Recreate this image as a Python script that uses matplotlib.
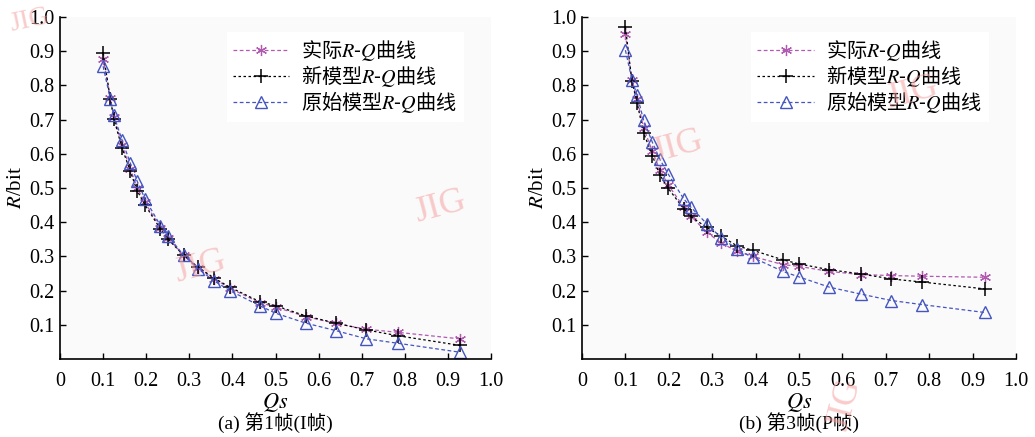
import matplotlib
matplotlib.use("Agg")
import matplotlib.pyplot as plt

plt.rcParams['font.family'] = ['Liberation Serif', 'Noto Sans CJK SC']
plt.rcParams['mathtext.fontset'] = 'stix'

# Qs positions shared by all curves
qs_a = [0.100, 0.117, 0.125, 0.144, 0.163, 0.179, 0.197, 0.233, 0.250, 0.287,
        0.321, 0.357, 0.394, 0.463, 0.500, 0.570, 0.640, 0.711, 0.784, 0.927]
actual_a = [0.878, 0.762, 0.708, 0.625, 0.557, 0.500, 0.458, 0.384, 0.355, 0.303,
            0.267, 0.235, 0.207, 0.165, 0.152, 0.124, 0.104, 0.087, 0.078, 0.059]
new_a = [0.895, 0.759, 0.702, 0.617, 0.549, 0.492, 0.451, 0.380, 0.351, 0.303,
         0.268, 0.237, 0.210, 0.168, 0.156, 0.126, 0.105, 0.085, 0.068, 0.040]
orig_a = [0.856, 0.759, 0.712, 0.640, 0.573, 0.520, 0.469, 0.390, 0.361, 0.303,
          0.263, 0.229, 0.200, 0.156, 0.134, 0.105, 0.083, 0.059, 0.046, 0.020]

qs_b = [0.100, 0.115, 0.127, 0.142, 0.162, 0.179, 0.198, 0.234, 0.250, 0.287,
        0.321, 0.357, 0.393, 0.463, 0.500, 0.570, 0.642, 0.713, 0.784, 0.928]
actual_b = [0.949, 0.817, 0.760, 0.676, 0.607, 0.554, 0.510, 0.445, 0.419, 0.371,
            0.339, 0.315, 0.300, 0.276, 0.271, 0.256, 0.247, 0.244, 0.242, 0.239]
new_b = [0.971, 0.812, 0.749, 0.661, 0.595, 0.539, 0.500, 0.440, 0.417, 0.385,
         0.359, 0.331, 0.318, 0.290, 0.278, 0.261, 0.249, 0.234, 0.225, 0.205]
orig_b = [0.903, 0.817, 0.771, 0.698, 0.634, 0.585, 0.542, 0.469, 0.445, 0.396,
          0.354, 0.322, 0.297, 0.256, 0.240, 0.210, 0.190, 0.171, 0.159, 0.136]

labels = ['实际$R$-$Q$曲线', '新模型$R$-$Q$曲线', '原始模型$R$-$Q$曲线']
captions = ['(a) 第1帧(I帧)', '(b) 第3帧(P帧)']
xticks = [0, 0.1, 0.2, 0.3, 0.4, 0.5, 0.6, 0.7, 0.8, 0.9, 1.0]
xticklabels = ['0', '0.1', '0.2', '0.3', '0.4', '0.5', '0.6', '0.7', '0.8', '0.9', '1.0']
yticks = [0.1, 0.2, 0.3, 0.4, 0.5, 0.6, 0.7, 0.8, 0.9, 1.0]
yticklabels = ['0.1', '0.2', '0.3', '0.4', '0.5', '0.6', '0.7', '0.8', '0.9', '1.0']

fig = plt.figure(figsize=(10.35, 4.37), dpi=100)
W, H = 1035, 437
boxes = [(60, 431), (582, 434)]
datasets = [(qs_a, actual_a, new_a, orig_a), (qs_b, actual_b, new_b, orig_b)]

for (x0, w), (qs, act, new, org), cap in zip(boxes, datasets, captions):
    ax = fig.add_axes([x0 / W, 1 - 359 / H, w / W, 342 / H])
    ax.set_facecolor('#fafafa')
    ax.plot(qs, act, linestyle=(0, (3, 2)), color='#b05ab0', lw=0.9,
            marker=(6, 2, 0), markersize=8, markeredgewidth=0.9, label=labels[0])
    ax.plot(qs, new, linestyle=(0, (2, 2)), color='black', lw=0.9,
            marker='+', markersize=10, markeredgewidth=1.1, label=labels[1])
    ax.plot(qs, org, linestyle=(0, (3, 2)), color='#4455c0', lw=0.9,
            marker='^', markersize=8, markerfacecolor='none', markeredgewidth=1.0,
            label=labels[2])
    ax.set_xlim(0, 1.0)
    ax.set_ylim(0, 1.0)
    ax.set_xticks(xticks)
    ax.set_xticklabels(xticklabels)
    ax.set_yticks(yticks)
    ax.set_yticklabels(yticklabels)
    ax.tick_params(direction='in', length=4, width=1, labelsize=14.5)
    ax.tick_params(axis='x', pad=9)
    ax.tick_params(axis='y', pad=4)
    for s in ['top', 'right']:
        ax.spines[s].set_visible(False)
    ax.spines['left'].set_linewidth(1.2)
    ax.spines['bottom'].set_linewidth(1.2)
    ax.set_xlabel('$Qs$', fontsize=16, labelpad=0)
    ax.set_ylabel('$R$/bit', fontsize=15, labelpad=2)
    # CJK family first so the non-math parts of the labels get CJK glyphs
    leg = ax.legend(loc='upper right', bbox_to_anchor=(0.935, 0.955),
                    prop={'family': 'Noto Sans CJK SC', 'size': 14.5},
                    frameon=True, framealpha=1, edgecolor='white', fancybox=False,
                    handlelength=2.8, handletextpad=0.6, labelspacing=0.0,
                    borderaxespad=0.0, borderpad=0.3)
    fig.text((x0 + w / 2) / W, 1 - 423 / H, cap, fontsize=14, ha='center', va='center')

# journal watermarks
wm = dict(color='#f5a0a0', alpha=0.55, fontsize=26, ha='center', va='center')
fig.text(30 / W, 1 - 20 / H, 'JIG', rotation=12, color='#f5a0a0', alpha=0.55,
         fontsize=20, ha='center', va='center')
fig.text(440 / W, 1 - 207 / H, 'JIG', rotation=15, **wm)
fig.text(200 / W, 1 - 267 / H, 'JIG', rotation=15, **wm)
fig.text(677 / W, 1 - 147 / H, 'JIG', rotation=15, **wm)
fig.text(912 / W, 1 - 93 / H, 'JIG', rotation=15, **wm)
fig.text(845 / W, 1 - 405 / H, 'JIG', rotation=75, **wm)

fig.savefig('out.png', dpi=100)
